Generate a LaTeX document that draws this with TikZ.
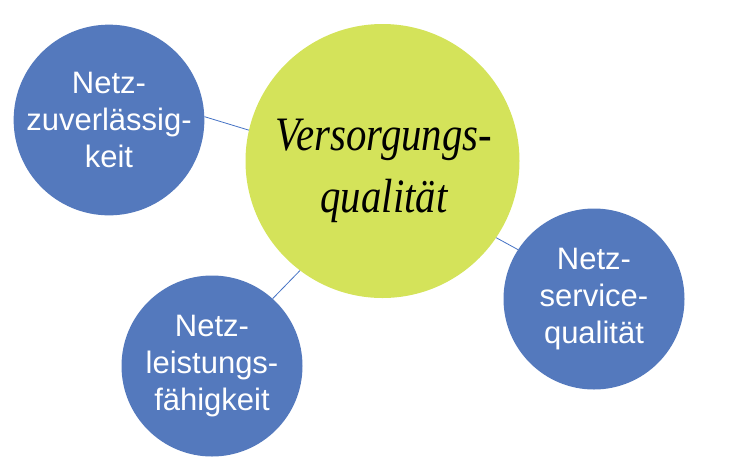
\documentclass[tikz,border=0pt]{standalone}
\usepackage{fontspec}
\setmainfont{Liberation Serif}
\setsansfont{Liberation Sans}
\definecolor{netzblue}{HTML}{5479BD}
\definecolor{mainlime}{HTML}{D4E35A}
\definecolor{linkblue}{HTML}{4472C4}
\begin{document}
\begin{tikzpicture}[x=1pt,y=-1pt,
  sub/.style={circle, fill=netzblue, draw=none, minimum size=181pt, inner sep=0pt,
    text=white, align=center, font=\sffamily\fontsize{31}{37}\selectfont},
  core/.style={circle, fill=mainlime, draw=none, minimum size=274pt, inner sep=0pt},
  coretext/.style={text=black, align=center, inner sep=0pt, font=\itshape\fontsize{48}{62}\selectfont},
  link/.style={draw=linkblue, line width=0.8pt}]
\useasboundingbox (0,0) rectangle (731,475);
\node[core] (vq) at (382.5,161) {};
\node[coretext] (vqt) at (384,171) {\scalebox{0.85}[1]{Versorgungs-}\\\scalebox{0.85}[1]{qualität}};
\node[sub] (zv) at (109,120) {Netz-\\zuverlässig-\\keit};
\node[sub] (sq) at (594,299) {Netz-\\service-\\qualität};
\node[sub] (lf) at (212,366) {Netz-\\leistungs-\\fähigkeit};
\draw[link] (zv.2) -- (vq.167);
\draw[link] (vq.-34) -- (sq.147);
\draw[link] (vq.-127) -- (lf.48.6);
\end{tikzpicture}
\end{document}
